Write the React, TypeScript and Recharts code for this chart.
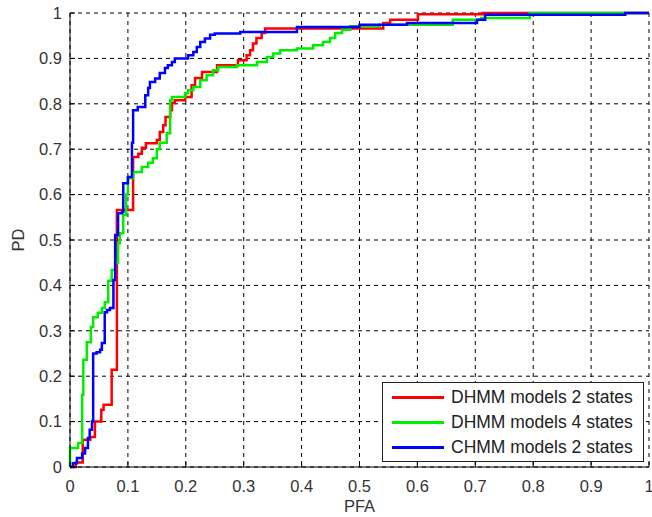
import React from "react";
import { LineChart, Line, XAxis, YAxis, CartesianGrid, Legend } from "recharts";

// PFA / PD step points
const dhmm2Pfa = [0, 0.01, 0.022, 0.035, 0.043, 0.054, 0.058, 0.072, 0.081, 0.109, 0.118, 0.124, 0.131, 0.15, 0.155, 0.161, 0.165, 0.173, 0.176, 0.181, 0.199, 0.21, 0.216, 0.228, 0.254, 0.29, 0.305, 0.311, 0.316, 0.322, 0.331, 0.337, 0.541, 0.553, 0.601, 0.713, 1];
const dhmm2Pd = [0, 0.01, 0.06, 0.066, 0.1, 0.126, 0.137, 0.214, 0.566, 0.683, 0.69, 0.703, 0.713, 0.72, 0.738, 0.753, 0.771, 0.786, 0.802, 0.808, 0.815, 0.841, 0.857, 0.87, 0.885, 0.896, 0.907, 0.918, 0.933, 0.945, 0.956, 0.966, 0.978, 0.985, 0.997, 1, 1];

const dhmm4Pfa = [0, 0, 0.014, 0.021, 0.023, 0.029, 0.036, 0.04, 0.048, 0.055, 0.06, 0.066, 0.072, 0.078, 0.083, 0.086, 0.092, 0.097, 0.1, 0.109, 0.124, 0.135, 0.143, 0.15, 0.155, 0.167, 0.173, 0.176, 0.199, 0.204, 0.213, 0.225, 0.236, 0.247, 0.256, 0.288, 0.323, 0.34, 0.351, 0.363, 0.392, 0.42, 0.437, 0.449, 0.458, 0.47, 0.484, 0.535, 0.661, 0.71, 0.794, 1];
const dhmm4Pd = [0, 0.042, 0.053, 0.159, 0.236, 0.275, 0.309, 0.33, 0.34, 0.35, 0.363, 0.41, 0.434, 0.45, 0.493, 0.515, 0.555, 0.6, 0.636, 0.65, 0.661, 0.67, 0.68, 0.7, 0.714, 0.735, 0.808, 0.815, 0.823, 0.83, 0.837, 0.852, 0.863, 0.874, 0.881, 0.885, 0.892, 0.903, 0.911, 0.918, 0.922, 0.929, 0.936, 0.945, 0.956, 0.963, 0.971, 0.974, 0.985, 0.989, 1, 1];

const chmm2Pfa = [0, 0.005, 0.012, 0.021, 0.026, 0.031, 0.034, 0.038, 0.04, 0.046, 0.052, 0.055, 0.06, 0.064, 0.069, 0.075, 0.078, 0.083, 0.09, 0.092, 0.1, 0.107, 0.109, 0.117, 0.13, 0.135, 0.138, 0.147, 0.155, 0.164, 0.169, 0.176, 0.181, 0.204, 0.213, 0.219, 0.225, 0.233, 0.242, 0.25, 0.294, 0.392, 0.5, 0.582, 0.703, 0.717, 0.959, 1];
const chmm2Pd = [0, 0.008, 0.02, 0.03, 0.042, 0.064, 0.082, 0.1, 0.25, 0.253, 0.258, 0.273, 0.341, 0.346, 0.35, 0.412, 0.511, 0.559, 0.562, 0.625, 0.639, 0.714, 0.786, 0.793, 0.819, 0.835, 0.848, 0.856, 0.868, 0.879, 0.885, 0.892, 0.9, 0.907, 0.914, 0.925, 0.936, 0.944, 0.952, 0.955, 0.958, 0.969, 0.974, 0.978, 0.985, 0.996, 1, 1];

const ticks = [0, 0.1, 0.2, 0.3, 0.4, 0.5, 0.6, 0.7, 0.8, 0.9, 1];
const seriesNames = ["DHMM models 2 states", "DHMM models 4 states", "CHMM models 2 states"];
const seriesColors = ["#ff0000", "#00ee00", "#0000ff"];

const toPoints = (pfa: number[], pd: number[]) => pfa.map((x, i) => ({ pfa: x, pd: pd[i] }));

const series = [
  toPoints(dhmm2Pfa, dhmm2Pd),
  toPoints(dhmm4Pfa, dhmm4Pd),
  toPoints(chmm2Pfa, chmm2Pd),
];

const tickStyle = { fontSize: 16.5, fill: "#333" };

function LegendBox() {
  return (
    <div
      style={{
        width: 262,
        height: 80,
        boxSizing: "border-box",
        border: "1px solid #222",
        background: "#fff",
        paddingTop: 2,
      }}
    >
      {seriesNames.map((name, i) => (
        <div key={name} style={{ display: "flex", alignItems: "center", height: 25 }}>
          <div style={{ width: 52, height: 2.5, marginLeft: 9, background: seriesColors[i] }} />
          <span style={{ marginLeft: 7, fontSize: 17.5, color: "#222", whiteSpace: "nowrap" }}>{name}</span>
        </div>
      ))}
    </div>
  );
}

export default function App() {
  return (
    <div
      style={{
        position: "absolute",
        left: 0,
        top: 0,
        width: 652,
        height: 517,
        background: "#fff",
        fontFamily: "'Liberation Sans', Arial, sans-serif",
      }}
    >
      <LineChart width={652} height={517} margin={{ top: 13, right: 3, left: 0, bottom: 0 }}>
        <CartesianGrid strokeDasharray="4 4" stroke="#000" strokeWidth={1} />
        <XAxis
          type="number"
          dataKey="pfa"
          domain={[0, 1]}
          ticks={ticks}
          interval={0}
          height={50}
          tick={tickStyle}
          tickSize={-5}
          tickMargin={18}
          tickFormatter={(v) => String(v)}
          axisLine={{ stroke: "#000" }}
          tickLine={{ stroke: "#000" }}
          label={{ value: "PFA", position: "insideBottom", offset: 5, style: { fontSize: 16.5, fill: "#333" } }}
        />
        <XAxis
          xAxisId="top"
          orientation="top"
          type="number"
          domain={[0, 1]}
          ticks={ticks}
          height={0}
          tick={false}
          tickSize={-5}
          axisLine={{ stroke: "#000" }}
          tickLine={{ stroke: "#000" }}
        />
        <YAxis
          type="number"
          domain={[0, 1]}
          ticks={ticks}
          interval={0}
          width={70}
          tick={tickStyle}
          tickSize={-5}
          tickMargin={13}
          tickFormatter={(v) => String(v)}
          axisLine={{ stroke: "#000" }}
          tickLine={{ stroke: "#000" }}
          label={{
            value: "PD",
            angle: -90,
            position: "insideLeft",
            offset: 18,
            style: { fontSize: 16.5, fill: "#333", textAnchor: "middle" },
          }}
        />
        <YAxis
          yAxisId="right"
          orientation="right"
          type="number"
          domain={[0, 1]}
          ticks={ticks}
          width={0}
          tick={false}
          tickSize={-5}
          axisLine={{ stroke: "#000" }}
          tickLine={{ stroke: "#000" }}
        />
        {series.map((pts, i) => (
          <Line
            key={seriesNames[i]}
            data={pts}
            dataKey="pd"
            name={seriesNames[i]}
            type="stepAfter"
            stroke={seriesColors[i]}
            strokeWidth={2.5}
            dot={false}
            activeDot={false}
            isAnimationActive={false}
          />
        ))}
        <Legend
          layout="vertical"
          align="center"
          verticalAlign="middle"
          content={() => <LegendBox />}
          wrapperStyle={{ left: 382, top: 382, width: 262, height: 80 }}
        />
      </LineChart>
    </div>
  );
}
